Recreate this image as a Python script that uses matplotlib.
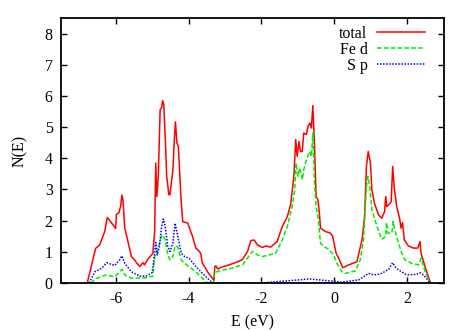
import numpy as np
import matplotlib
matplotlib.use("Agg")
import matplotlib.pyplot as plt

plt.rcParams["font.family"] = ["Liberation Serif", "DejaVu Serif"]
plt.rcParams["font.size"] = 11.5

# total DOS
total_e = [-6.78, -6.55, -6.44, -6.30, -6.23, -6.16, -6.00, -5.98, -5.91, -5.86,
           -5.83, -5.80, -5.75, -5.68, -5.57, -5.48, -5.43, -5.34, -5.25, -5.21,
           -5.12, -4.98, -4.93, -4.90, -4.87, -4.83, -4.78, -4.74, -4.71, -4.68,
           -4.63, -4.60, -4.54, -4.51, -4.43, -4.39, -4.36, -4.32, -4.28, -4.21,
           -4.16, -4.02, -3.98, -3.89, -3.80, -3.70, -3.66, -3.63, -3.48, -3.30,
           -3.28, -3.25, -3.20, -3.07, -2.89, -2.61, -2.52, -2.38, -2.29, -2.20,
           -2.11, -1.97, -1.88, -1.75, -1.57, -1.43, -1.29, -1.20, -1.11, -1.06,
           -1.02, -0.97, -0.93, -0.88, -0.84, -0.77, -0.72, -0.67, -0.63, -0.59,
           -0.55, -0.50, -0.45, -0.41, -0.38, -0.24, -0.11, -0.05, 0.05, 0.12,
           0.23, 0.39, 0.62, 0.67, 0.76, 0.83, 0.88, 0.93, 0.99, 1.03,
           1.10, 1.21, 1.30, 1.38, 1.41, 1.44, 1.49, 1.56, 1.60, 1.64,
           1.71, 1.79, 1.83, 1.87, 1.92, 2.03, 2.17, 2.29, 2.35, 2.38,
           2.49, 2.58, 2.64]
total_n = [0.00, 1.11, 1.22, 1.65, 2.10, 2.00, 1.75, 2.20, 2.26, 2.48,
           2.82, 2.67, 1.75, 1.42, 0.85, 0.74, 0.65, 0.53, 0.65, 0.58,
           0.76, 0.95, 1.65, 3.85, 2.77, 3.42, 5.56, 5.62, 5.85, 5.72,
           4.40, 3.42, 2.83, 2.83, 3.63, 4.60, 5.17, 4.49, 4.38, 2.77,
           1.97, 1.92, 1.78, 1.49, 1.12, 1.01, 0.93, 0.66, 0.36, 0.08,
           0.52, 0.55, 0.45, 0.52, 0.58, 0.70, 0.76, 1.01, 1.36, 1.38,
           1.22, 1.14, 1.19, 1.15, 1.33, 1.81, 2.13, 2.51, 3.42, 4.60,
           4.06, 4.54, 4.22, 4.22, 4.81, 4.76, 5.03, 5.13, 4.97, 5.69,
           4.60, 2.77, 2.67, 2.24, 1.76, 1.65, 1.60, 1.51, 0.95, 0.79,
           0.49, 0.58, 0.68, 0.95, 1.38, 2.13, 3.74, 4.22, 3.85, 2.99,
           2.56, 2.19, 2.08, 2.29, 2.77, 2.45, 2.51, 2.61, 3.74, 3.10,
           2.45, 2.08, 1.76, 1.94, 1.38, 1.19, 1.12, 1.12, 1.33, 0.95,
           0.52, 0.20, 0.00]

# Fe d projected DOS
fed_e = [-6.69, -6.53, -6.25, -6.03, -5.89, -5.82, -5.75, -5.57, -5.16, -4.98,
         -4.93, -4.87, -4.82, -4.75, -4.71, -4.64, -4.57, -4.51, -4.43, -4.37,
         -4.30, -4.20, -4.11, -3.98, -3.80, -3.62, -3.48, -3.31, -3.30, -3.07,
         -2.89, -2.61, -2.52, -2.34, -2.25, -2.11, -1.97, -1.61, -1.43, -1.29,
         -1.16, -1.09, -1.05, -1.00, -0.95, -0.88, -0.84, -0.75, -0.68, -0.63,
         -0.59, -0.54, -0.50, -0.45, -0.38, -0.29, -0.15, -0.02, 0.07, 0.21,
         0.30, 0.58, 0.71, 0.80, 0.88, 0.92, 0.97, 1.03, 1.17, 1.30,
         1.41, 1.43, 1.47, 1.58, 1.61, 1.67, 1.76, 1.85, 1.94, 2.12,
         2.31, 2.38, 2.49, 2.63]
fed_n = [0.00, 0.15, 0.26, 0.20, 0.36, 0.44, 0.26, 0.15, 0.17, 0.22,
         0.85, 1.01, 1.17, 1.49, 1.54, 1.38, 0.90, 0.74, 0.85, 1.19,
         1.17, 0.74, 0.63, 0.52, 0.36, 0.15, 0.00, 0.00, 0.33, 0.42,
         0.45, 0.55, 0.58, 0.87, 1.01, 0.90, 0.85, 0.95, 1.38, 1.81,
         2.45, 2.94, 3.85, 3.42, 3.69, 3.31, 3.63, 4.01, 4.22, 4.06,
         4.81, 3.10, 2.45, 2.13, 1.28, 1.17, 1.08, 0.90, 0.63, 0.36,
         0.31, 0.39, 0.74, 1.38, 3.10, 3.42, 3.10, 2.35, 1.81, 1.40,
         1.49, 1.94, 1.60, 1.60, 1.97, 1.65, 1.28, 0.95, 0.74, 0.63,
         0.58, 0.79, 0.36, 0.00]

# S p projected DOS
sp_e = [-6.73, -6.57, -6.39, -6.24, -6.03, -5.89, -5.83, -5.75, -5.57, -5.34,
        -5.16, -5.00, -4.93, -4.90, -4.86, -4.80, -4.74, -4.69, -4.64, -4.57,
        -4.51, -4.43, -4.37, -4.33, -4.20, -4.11, -3.98, -3.84, -3.66, -3.48,
        -3.34, -2.00, -1.50, -0.97, -0.70, -0.40, -0.07, 0.20, 0.67, 0.94,
        1.08, 1.21, 1.30, 1.49, 1.60, 1.67, 1.76, 1.85, 1.94, 2.03,
        2.26, 2.35, 2.42, 2.49, 2.63]
sp_n = [0.00, 0.36, 0.47, 0.65, 0.56, 0.74, 0.87, 0.63, 0.36, 0.22,
        0.22, 0.33, 0.95, 1.30, 0.90, 1.17, 1.81, 2.05, 1.81, 1.17,
        1.01, 1.28, 1.92, 1.70, 0.95, 0.85, 0.79, 0.58, 0.36, 0.15,
        0.00, 0.00, 0.05, 0.10, 0.13, 0.10, 0.06, 0.03, 0.10, 0.31,
        0.26, 0.28, 0.31, 0.44, 0.65, 0.52, 0.42, 0.36, 0.29, 0.26,
        0.28, 0.33, 0.28, 0.20, 0.00]

fig = plt.figure(figsize=(4.71, 3.30), dpi=100)
ax = fig.add_axes([0.1295, 0.1424, 0.8125, 0.8031])

ax.plot(total_e, total_n, color="#ff0000", lw=1.1, label="total")
ax.plot(fed_e, fed_n, color="#00ee00", lw=1.1, ls=(0, (3, 1.5)), label="Fe d")
ax.plot(sp_e, sp_n, color="#0000ff", lw=1.1, ls=(0, (1, 1)), label="S p")

ax.set_xlim(-7.5, 3)
ax.set_ylim(0, 8.5)
ax.set_xticks([-6, -4, -2, 0, 2])
ax.set_xticklabels(["-6", "-4", "-2", "0", "2"])
ax.set_yticks(range(0, 9))
ax.tick_params(direction="in", length=4, width=1, top=True, right=True, pad=6)
for s in ax.spines.values():
    s.set_linewidth(1.3)

ax.set_xlabel("E (eV)", labelpad=5)
ax.set_ylabel("N(E)", labelpad=12)

leg = ax.legend(loc="upper right", bbox_to_anchor=(0.968, 0.995), frameon=False,
                markerfirst=False, handlelength=3.0, handletextpad=0.6,
                labelspacing=0.0, borderaxespad=0.0, fontsize=11.5)

fig.savefig("out.png", dpi=100)
